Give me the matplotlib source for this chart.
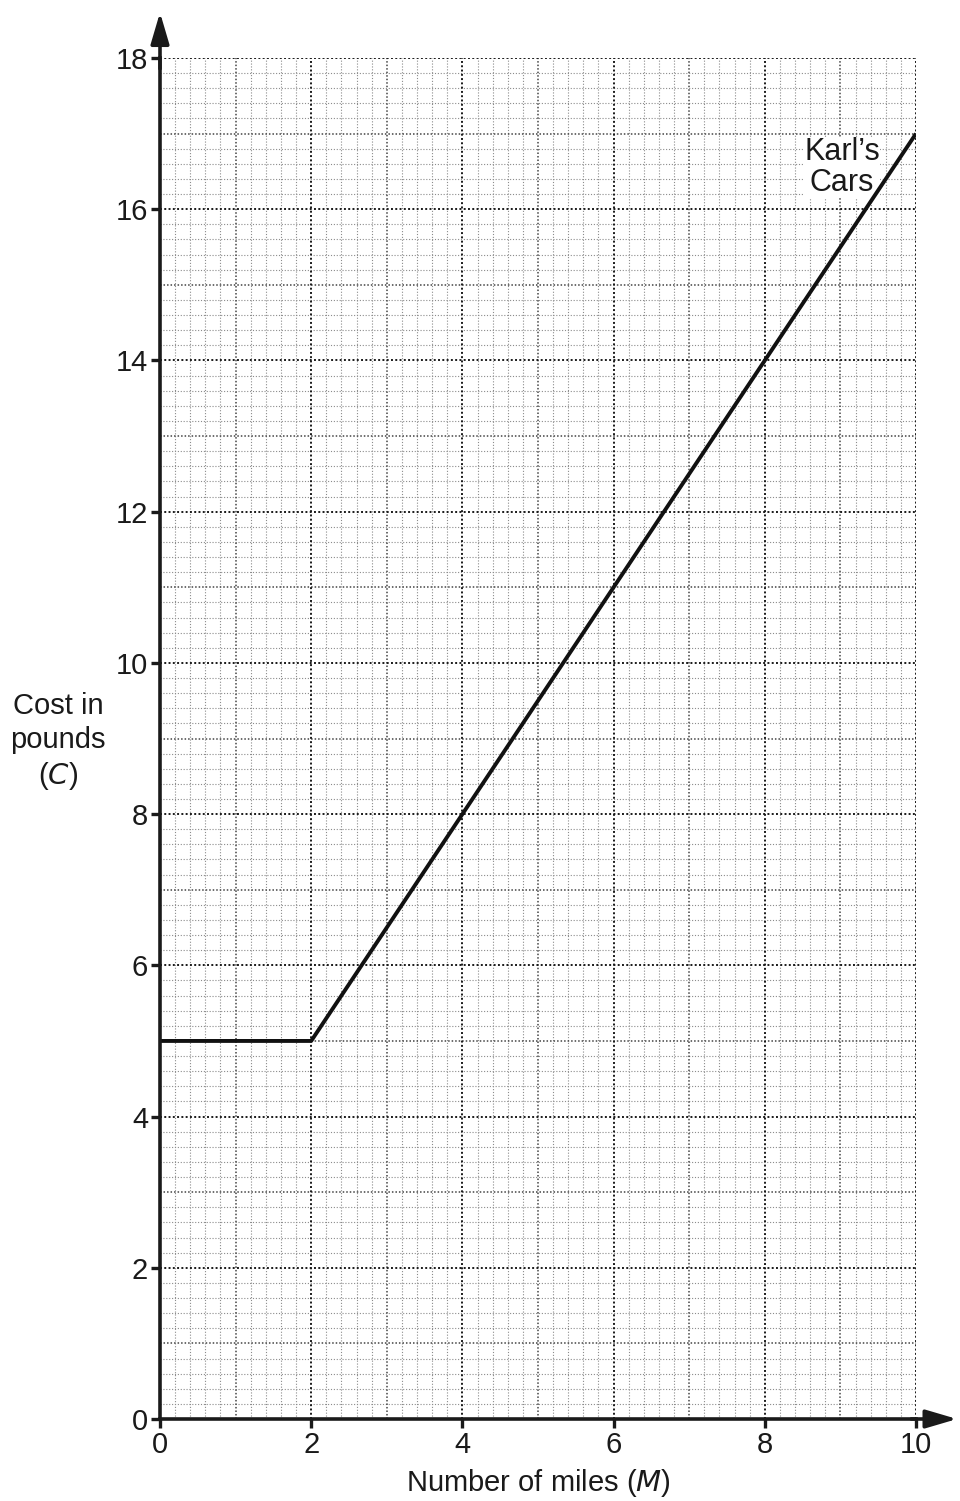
import numpy as np
import matplotlib.pyplot as plt

plt.rcParams['font.family'] = ['Liberation Sans', 'DejaVu Sans']

# Karl's Cars: cost in pounds against number of miles
miles = [0, 2, 10]
cost = [5, 5, 17]

x_ticks = [0, 2, 4, 6, 8, 10]
y_ticks = [0, 2, 4, 6, 8, 10, 12, 14, 16, 18]

fig = plt.figure(figsize=(9.6, 15.01), dpi=100)
ax = fig.add_axes([160 / 960, 82 / 1501, 756 / 960, 1361 / 1501])
ax.set_xlim(0, 10)
ax.set_ylim(0, 18)

# graph paper: fine lines every 0.2, medium every 1, heavy every 2
fine = (0, (1, 1.6))
for v in np.arange(0.2, 10.01, 0.2):
    v = round(v, 1)
    if v % 2 == 0:
        ax.axvline(v, color='#1a1a1a', lw=1.4, ls=(0, (1, 1.2)), zorder=2)
    elif v % 1 == 0:
        ax.axvline(v, color='#444444', lw=1.1, ls=(0, (1, 1.3)), zorder=1.5)
    else:
        ax.axvline(v, color='#8c8c8c', lw=0.8, ls=fine, zorder=1)
for v in np.arange(0.2, 18.01, 0.2):
    v = round(v, 1)
    if v % 2 == 0:
        ax.axhline(v, color='#1a1a1a', lw=1.4, ls=(0, (1, 1.2)), zorder=2)
    elif v % 1 == 0:
        ax.axhline(v, color='#444444', lw=1.1, ls=(0, (1, 1.3)), zorder=1.5)
    else:
        ax.axhline(v, color='#8c8c8c', lw=0.8, ls=fine, zorder=1)

ax.plot(miles, cost, color='#111111', lw=2.8, zorder=5, solid_capstyle='butt')
ax.text(9.02, 16.55, "Karl\u2019s\nCars", fontsize=22, ha='center', va='center',
        linespacing=1.02, color='#1a1a1a', zorder=4,
        bbox=dict(facecolor='white', edgecolor='none', pad=0.5))

for s in ['top', 'right']:
    ax.spines[s].set_visible(False)
for s in ['left', 'bottom']:
    ax.spines[s].set_linewidth(2.6)
    ax.spines[s].set_color('#1a1a1a')
    ax.spines[s].set_zorder(7)

# arrow heads on the axes
head = dict(arrowstyle='-|>,head_width=0.28,head_length=0.95', color='#1a1a1a',
            lw=2.6, mutation_scale=20)
ax.annotate('', xy=(0, 1.0355), xytext=(0, 0.99), xycoords='axes fraction',
            arrowprops=head, annotation_clip=False)
ax.annotate('', xy=(1.058, 0), xytext=(0.99, 0), xycoords='axes fraction',
            arrowprops=head, annotation_clip=False)

ax.set_xticks(x_ticks)
ax.set_yticks(y_ticks)
ax.tick_params(direction='out', length=6.5, width=2.4, color='#1a1a1a',
               labelsize=21, labelcolor='#1a1a1a', pad=2)

ax.set_xlabel('Number of miles ($\\it{M}$)', fontsize=21, color='#1a1a1a', labelpad=6)
fig.text(58 / 960, 1 - 742 / 1501, 'Cost in\npounds\n($\\it{C}$)', fontsize=21,
         ha='center', va='center', linespacing=1.28, color='#1a1a1a')

fig.savefig('out.png', dpi=100)
